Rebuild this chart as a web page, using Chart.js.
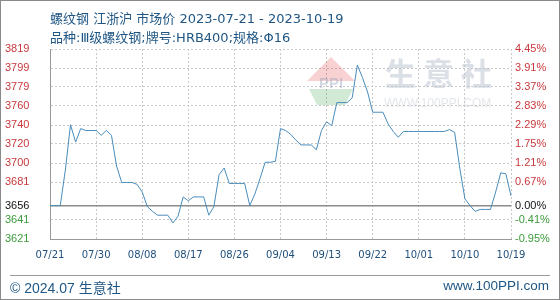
<!DOCTYPE html>
<html><head><meta charset="utf-8">
<script src="https://cdn.jsdelivr.net/npm/chart.js@4/dist/chart.umd.min.js"></script>
<style>
html,body{margin:0;padding:0;background:#fff;}
#wrap{position:relative;width:560px;height:300px;box-sizing:border-box;border:1px solid #8a8a8a;overflow:hidden;}
#c{position:absolute;left:0;top:0;}
.t{position:absolute;font-family:"Liberation Sans","Noto Sans CJK SC",sans-serif;color:#1f5684;white-space:nowrap;}
.h{font-family:"DejaVu Sans","Noto Sans CJK SC",sans-serif;font-size:13px;}
#foot{position:absolute;left:9px;right:9px;top:274px;border-top:1px solid #9a9a9a;}
</style></head>
<body>
<div id="wrap">
<canvas id="c" width="558" height="298"></canvas>
<div class="t h" style="left:49px;top:7px;">螺纹钢 江浙沪 市场价 2023-07-21 - 2023-10-19</div>
<div class="t h" style="left:49px;top:26px;">品种:Ⅲ级螺纹钢;牌号:HRB400;规格:Φ16</div>
<div id="foot"></div>
<div class="t" style="left:9px;top:276px;font-size:14px;">© 2024.07 生意社</div>
<div class="t" style="right:10px;top:277px;font-size:13.5px;">www.100PPI.com</div>
</div>
<script>
const dates = ["07/21","07/22","07/23","07/24","07/25","07/26","07/27","07/28","07/29","07/30",
"07/31","08/01","08/02","08/03","08/04","08/05","08/06","08/07","08/08","08/09",
"08/10","08/11","08/12","08/13","08/14","08/15","08/16","08/17","08/18","08/19",
"08/20","08/21","08/22","08/23","08/24","08/25","08/26","08/27","08/28","08/29",
"08/30","08/31","09/01","09/02","09/03","09/04","09/05","09/06","09/07","09/08",
"09/09","09/10","09/11","09/12","09/13","09/14","09/15","09/16","09/17","09/18",
"09/19","09/20","09/21","09/22","09/23","09/24","09/25","09/26","09/27","09/28",
"09/29","09/30","10/01","10/02","10/03","10/04","10/05","10/06","10/07","10/08",
"10/09","10/10","10/11","10/12","10/13","10/14","10/15","10/16","10/17","10/18","10/19"];
const prices = [3656,3656,3656,3693,3740,3722,3736,3734,3734,3734,
3729,3734,3729,3697,3680,3680,3680,3678,3670,3655,
3650,3646,3646,3646,3638,3645,3665,3661,3665,3665,
3665,3646,3655,3688,3695,3679,3679,3679,3679,3656,
3668,3684,3701,3701,3702,3736,3734,3730,3724,3719,
3719,3719,3714,3734,3743,3739,3763,3763,3763,3768,
3802,3789,3774,3753,3753,3753,3741,3733,3727,3733,
3733,3733,3733,3733,3733,3733,3733,3733,3735,3732,
3695,3663,3656,3650,3652,3652,3652,3670,3690,3689,3666];
const basePrice = 3656;
const pctTicks = [-0.95,-0.41,0.00,0.67,1.21,1.75,2.29,2.83,3.37,3.91,4.45];
const priceTickLabels = ["3621","3641","3656","3681","3700","3720","3740","3760","3779","3799","3819"];
const pctTickLabels = ["-0.95%","-0.41%","0.00%","0.67%","1.21%","1.75%","2.29%","2.83%","3.37%","3.91%","4.45%"];

const RED = '#c8383c', GREEN = '#3a9a3a', BLACK = '#111';
const colorFor = p => p > 0 ? RED : (p < 0 ? GREEN : BLACK);
const priceTickValues = pctTicks.map(p => basePrice * (1 + p / 100));

const watermark = {
  id: 'wm',
  beforeDatasetsDraw(chart) {
    const ctx = chart.ctx;
    ctx.save();
    ctx.globalAlpha = 0.22;
    ctx.fillStyle = '#e03030';
    ctx.beginPath(); ctx.moveTo(330, 56); ctx.lineTo(306, 80); ctx.lineTo(354, 80); ctx.closePath(); ctx.fill();
    ctx.fillStyle = '#30a040';
    ctx.beginPath(); ctx.moveTo(308, 88); ctx.lineTo(352, 88); ctx.lineTo(344, 104); ctx.lineTo(316, 104); ctx.closePath(); ctx.fill();
    ctx.globalAlpha = 0.35;
    ctx.fillStyle = '#8090b0';
    ctx.font = 'bold 15px "Liberation Sans"';
    ctx.fillText('PPI', 318, 87);
    ctx.globalAlpha = 1;
    ctx.fillStyle = 'rgba(190,196,210,0.55)';
    ctx.font = 'bold 31px "Noto Sans CJK SC"';
    ctx.textBaseline = 'middle';
    ctx.fillText('生 意 社', 384, 72);
    ctx.fillStyle = 'rgba(200,205,215,0.5)';
    ctx.font = '12px "Liberation Sans"';
    ctx.fillText('WWW.100PPI.COM', 383, 103);
    ctx.restore();
  }
};

new Chart(document.getElementById('c'), {
  type: 'line',
  data: {
    labels: dates,
    datasets: [{
      data: prices,
      borderColor: '#4a8cbc',
      borderWidth: 1,
      pointRadius: 0,
      tension: 0,
      fill: false,
      yAxisID: 'y'
    }]
  },
  options: {
    responsive: false,
    animation: false,
    events: [],
    layout: { padding: { left: 4, right: 0, top: 48, bottom: 30 } },
    plugins: { legend: { display: false }, tooltip: { enabled: false } },
    scales: {
      x: {
        type: 'category',
        offset: false,
        grid: { color: '#c8c8c8', lineWidth: 1, drawTicks: false },
        border: { display: true, color: '#999', width: 1, dash: [2, 2] },
        ticks: {
          autoSkip: false, maxRotation: 0, minRotation: 0, padding: 10,
          color: '#1f4f7a', font: { family: 'DejaVu Sans', size: 10 },
          callback: (v, i) => (i % 9 === 0 ? dates[i] : null)
        },
        afterFit: s => { s.height = 30; }
      },
      y: {
        position: 'left',
        min: priceTickValues[0], max: priceTickValues[priceTickValues.length - 1],
        afterBuildTicks: s => { s.ticks = priceTickValues.map(v => ({ value: v })); },
        grid: {
          drawTicks: false,
          color: c => (c.index === 2 ? '#8c8c8c' : '#c8c8c8'),
          lineWidth: c => (c.index === 2 ? 1.5 : 1)
        },
        border: { display: true, color: '#999', width: 1, dash: c => (c.index === 2 ? [] : [2, 2]) },
        ticks: {
          crossAlign: 'far', padding: 6,
          font: { family: 'Liberation Sans', size: 11 },
          color: c => colorFor(pctTicks[c.index]),
          callback: (v, i) => priceTickLabels[i]
        },
        afterFit: s => { s.width = 45; }
      },
      y2: {
        position: 'right',
        min: pctTicks[0], max: pctTicks[pctTicks.length - 1],
        afterBuildTicks: s => { s.ticks = pctTicks.map(v => ({ value: v })); },
        grid: { drawOnChartArea: false, drawTicks: false },
        border: { display: false },
        ticks: {
          crossAlign: 'near', padding: 4,
          font: { family: 'Liberation Sans', size: 11 },
          color: c => colorFor(pctTicks[c.index]),
          callback: (v, i) => pctTickLabels[i]
        },
        afterFit: s => { s.width = 48; }
      }
    }
  },
  plugins: [watermark]
});
</script>
</body></html>
